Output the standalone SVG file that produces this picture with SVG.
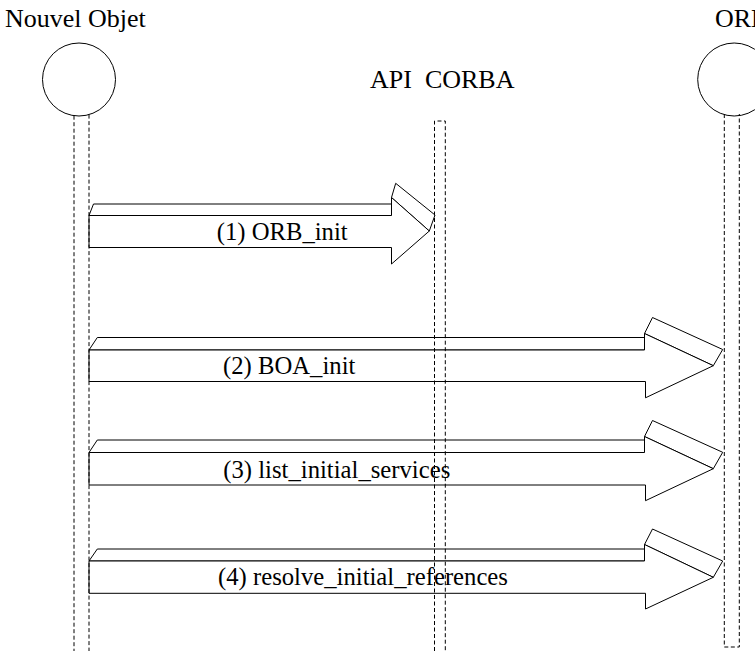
<svg xmlns="http://www.w3.org/2000/svg" width="755" height="651" viewBox="0 0 755 651">
<style>
.t{font-family:'Liberation Serif','DejaVu Serif','Times New Roman',serif;font-size:24.7px;fill:#000;white-space:pre}
.h{font-size:26px}
.f{fill:#fff;stroke:#000;stroke-width:1;stroke-linejoin:miter}
.life{fill:none;stroke:#000;stroke-width:1;stroke-dasharray:4 2.5}
.obj{fill:#fff;stroke:#000;stroke-width:1}
</style>
<rect width="755" height="651" fill="#fff"/>
<g id="connectors">
  <g id="c1">
    <polygon class="f" points="89,215.5 93.5,204 391.5,204 391.5,215.5"/>
    <polygon class="f" points="391.5,197.5 395.7,183.3 435,215 429.3,231"/>
    <polygon class="f" points="89,215.5 391.5,215.5 391.5,197.5 429.3,231 391.5,264 391.5,247.5 89,247.5"/>
    <text class="t" x="216.7" y="240">(1) ORB_init</text>
  </g>
  <g id="c2">
    <polygon class="f" points="89,350 97.3,337.5 644.5,337.5 644.5,350"/>
    <polygon class="f" points="644.5,333.5 652.5,317.5 722.7,349.5 713.3,365.7"/>
    <polygon class="f" points="89,350 644.5,350 644.5,333.5 713.3,365.7 645.5,397.8 645.5,381.5 89,381.5"/>
    <text class="t" x="223" y="374">(2) BOA_init</text>
  </g>
  <g id="c3">
    <polygon class="f" points="89,452.5 97.3,440 644.5,440 644.5,452.5"/>
    <polygon class="f" points="644.5,436.5 652.5,420.5 722.7,452.3 713.3,468.7"/>
    <polygon class="f" points="89,452.5 644.5,452.5 644.5,436.5 713.3,468.7 645.5,500.7 645.5,485 89,485"/>
    <text class="t" x="223.3" y="477.7">(3) list_initial_services</text>
  </g>
  <g id="c4">
    <polygon class="f" points="89,561 97.3,549 644.5,549 644.5,561"/>
    <polygon class="f" points="644.5,544.5 652.5,529 722.7,561 713.3,577.3"/>
    <polygon class="f" points="89,561 644.5,561 644.5,544.5 713.3,577.3 645.5,609 645.5,593.3 89,593.3"/>
    <text class="t" x="218" y="585">(4) resolve_initial_references</text>
  </g>
</g>
<g id="nouvel-objet">
  <text class="t h" x="5" y="27">Nouvel Objet</text>
  <circle class="obj" cx="79" cy="79.5" r="36.5"/>
  <line class="life" x1="74" y1="115.7" x2="74" y2="651"/>
  <line class="life" x1="89" y1="114.6" x2="89" y2="651"/>
</g>
<g id="api-corba">
  <text class="t h" x="370" y="88" xml:space="preserve">API  CORBA</text>
  <path class="life" d="M434.5,651 V121 H445.3 V651"/>
</g>
<g id="orb">
  <text class="t h" x="715" y="27">ORB</text>
  <circle class="obj" cx="734.2" cy="79.5" r="36.5"/>
  <path class="life" d="M724.3,114 V647 H739.3 V114"/>
</g>
</svg>
